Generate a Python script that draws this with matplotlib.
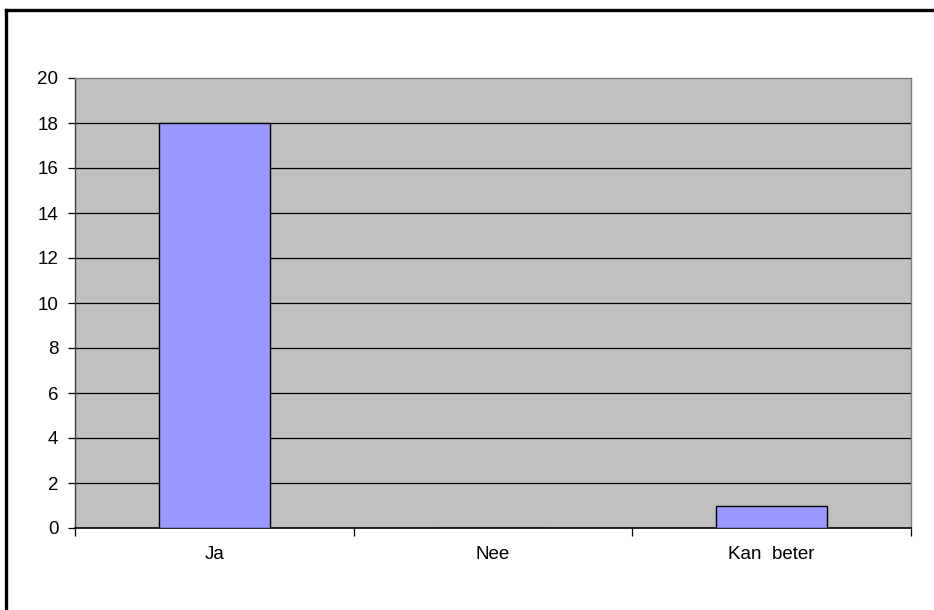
import matplotlib; matplotlib.use("Agg")
import matplotlib.pyplot as plt
from matplotlib.lines import Line2D

# survey answers
categories = ["Ja", "Nee", "Kan  beter"]
counts = [18, 0, 1]
yticks = list(range(0, 21, 2))

BAR = "#9999FF"; PLOT_BG = "#C0C0C0"; FRAME = "#808080"
plt.rcParams["font.family"] = ["Liberation Sans", "DejaVu Sans"]

fig = plt.figure(figsize=(9.34, 6.10), dpi=100)
ax = fig.add_axes([75/934, 82/610, 836/934, 450/610])
ax.set_facecolor(PLOT_BG)

x = list(range(len(categories)))
ax.bar(x, counts, width=0.4, color=BAR, edgecolor="black", linewidth=1.0, zorder=3)

ax.set_xlim(-0.5, len(categories) - 0.5)
ax.set_ylim(0, 20)
ax.set_yticks(yticks)
for v in yticks[1:-1]:
    ax.axhline(v, color="black", lw=0.9, zorder=1)

# category labels centred, tick marks on the boundaries
ax.set_xticks([i - 0.5 for i in range(len(categories) + 1)])
ax.set_xticklabels([])
ax.set_xticks(x, minor=True)
ax.set_xticklabels(categories, minor=True, fontsize=13.5)
ax.tick_params(axis="x", which="minor", length=0, pad=13)
ax.tick_params(axis="x", which="major", length=6, width=0.9, color="black")
ax.tick_params(axis="y", length=5, width=0.9, pad=7, labelsize=13.5, color="black")

for s in ["top", "right"]:
    ax.spines[s].set_color(FRAME); ax.spines[s].set_linewidth(1.0)
ax.spines["left"].set_color("#404040"); ax.spines["left"].set_linewidth(1.0)
ax.spines["bottom"].set_color("black"); ax.spines["bottom"].set_linewidth(1.2)

# outer chart frame
fig.add_artist(Line2D([6/934, 1.0], [1 - 10/610, 1 - 10/610], color="black", lw=2.4, transform=fig.transFigure))
fig.add_artist(Line2D([6/934, 6/934], [0.0, 1 - 10/610], color="black", lw=2.4, transform=fig.transFigure))

fig.savefig("out.png", dpi=100)
